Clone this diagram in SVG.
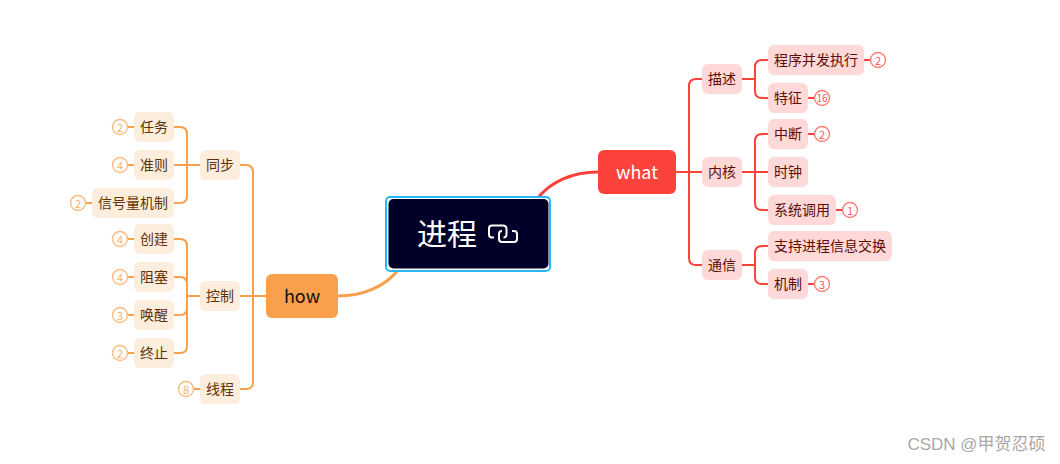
<svg xmlns="http://www.w3.org/2000/svg" width="1060" height="464" viewBox="0 0 1060 464">
<style>
text{font-family:"Noto Sans CJK SC","Noto Sans",sans-serif;text-anchor:middle;dominant-baseline:central}
.l{font-size:14px}
.r rect{fill:#ffd9d7}.r text{fill:#5c0b08}
.o rect{fill:#fdeddd}.o text{fill:#5e3208}
.c{fill:none;stroke-linecap:butt}
.cr{stroke:#fc433b}.co{stroke:#f8a04c}
.bd{fill:#fff;stroke-width:1.4}
.bd.br{stroke:#fc7f79}.bd.bo{stroke:#fbbd82}
.bt{font-size:11px}
.btr{fill:#fc5a52}.bto{fill:#fbb069}
</style>
<rect width="1060" height="464" fill="#fff"/>
<g id="connectors" class="c">
<path class="cr" stroke-width="3" d="M537 199C550 182 572 172 598 172"/>
<path class="co" stroke-width="3" d="M398 270C385 287 362 296 338 296"/>
<g class="cr" stroke-width="2">
<path d="M676 172H702"/>
<path d="M702 79H696Q689 79 689 86V258Q689 265 696 265H702"/>
<path d="M742 79H755M768 60H762Q755 60 755 67V91Q755 98 762 98H768"/>
<path d="M742 172H768M768 134H762Q755 134 755 141V203Q755 210 762 210H768"/>
<path d="M742 265H755M768 246H762Q755 246 755 253V277Q755 284 762 284H768"/>
<path d="M864 60H870M808 98H814M808 134H814M836 210H842M808 284H814"/>
</g>
<g class="co" stroke-width="2">
<path d="M266 296H240"/>
<path d="M240 165H246Q253 165 253 172V382Q253 389 246 389H240"/>
<path d="M200 165H174M174 127H180Q187 127 187 134V196Q187 203 180 203H174"/>
<path d="M200 296H187M174 239H180Q187 239 187 246V346Q187 353 180 353H174"/>
<path d="M174 277H180Q187 277 187 284V308Q187 315 180 315H174"/>
<path d="M134 127H128M134 165H128M92 203H86M134 239H128M134 277H128M134 315H128M134 353H128M200 389H194"/>
</g>
</g>
<g id="root">
<rect x="386" y="197" width="164" height="74" rx="4" fill="#fff" stroke="#2ab7f5" stroke-width="2"/>
<rect x="388.500" y="199" width="160" height="69.500" rx="5" fill="#000028"/>
<text x="447" y="231.500" font-size="30" fill="#fff">进程</text>
<g fill="none" stroke="#fff" stroke-width="2"><path d="M494 237.500H492Q489 237.500 489 234.500V228.500Q489 225.500 492 225.500H503Q506.500 225.500 506.500 229V234.500Q506.500 237.500 503.500 237.500"/><path d="M512 231H514Q517 231 517 234V239Q517 242 514 242H502Q499 242 499 239V234Q499 231 502 231"/></g>
</g>
<g id="what"><rect x="598" y="150" width="78" height="44" rx="6" fill="#fc433b"/><text x="637" y="170.500" font-size="18" fill="#fff">what</text></g>
<g id="how"><rect x="266" y="274" width="72" height="44" rx="6" fill="#f8a04c"/><text x="302" y="294.500" font-size="18" fill="#111">how</text></g>
<g class="r">
<g id="miaoshu"><rect x="702" y="64" width="40" height="30" rx="6"/><text class="l" x="722" y="77.500">描述</text></g>
<g id="chengxu"><rect x="768" y="45" width="96" height="30" rx="6"/><text class="l" x="816" y="58.500">程序并发执行</text></g>
<g id="tezheng"><rect x="768" y="83" width="40" height="30" rx="6"/><text class="l" x="788" y="96.500">特征</text></g>
<g id="zhongduan"><rect x="768" y="119" width="40" height="30" rx="6"/><text class="l" x="788" y="132.500">中断</text></g>
<g id="neihe"><rect x="702" y="157" width="40" height="30" rx="6"/><text class="l" x="722" y="170.500">内核</text></g>
<g id="shizhong"><rect x="768" y="157" width="40" height="30" rx="6"/><text class="l" x="788" y="170.500">时钟</text></g>
<g id="xitong"><rect x="768" y="195" width="68" height="30" rx="6"/><text class="l" x="802" y="208.500">系统调用</text></g>
<g id="tongxin"><rect x="702" y="250" width="40" height="30" rx="6"/><text class="l" x="722" y="263.500">通信</text></g>
<g id="zhichi"><rect x="768" y="231" width="124" height="30" rx="6"/><text class="l" x="830" y="244.500">支持进程信息交换</text></g>
<g id="jizhi"><rect x="768" y="269" width="40" height="30" rx="6"/><text class="l" x="788" y="282.500">机制</text></g>
</g>
<g class="o">
<g id="renwu"><rect x="134" y="112" width="40" height="30" rx="6"/><text class="l" x="154" y="125.500">任务</text></g>
<g id="zhunze"><rect x="134" y="150" width="40" height="30" rx="6"/><text class="l" x="154" y="163.500">准则</text></g>
<g id="xinhao"><rect x="92" y="188" width="82" height="30" rx="6"/><text class="l" x="133" y="201.500">信号量机制</text></g>
<g id="tongbu"><rect x="200" y="150" width="40" height="30" rx="6"/><text class="l" x="220" y="163.500">同步</text></g>
<g id="chuangjian"><rect x="134" y="224" width="40" height="30" rx="6"/><text class="l" x="154" y="237.500">创建</text></g>
<g id="zuse"><rect x="134" y="262" width="40" height="30" rx="6"/><text class="l" x="154" y="275.500">阻塞</text></g>
<g id="huanxing"><rect x="134" y="300" width="40" height="30" rx="6"/><text class="l" x="154" y="313.500">唤醒</text></g>
<g id="zhongzhi"><rect x="134" y="338" width="40" height="30" rx="6"/><text class="l" x="154" y="351.500">终止</text></g>
<g id="kongzhi"><rect x="200" y="281" width="40" height="30" rx="6"/><text class="l" x="220" y="294.500">控制</text></g>
<g id="xiancheng"><rect x="200" y="374" width="40" height="30" rx="6"/><text class="l" x="220" y="387.500">线程</text></g>
</g>
<g id="badges">
<g><circle class="bd br" cx="878" cy="60" r="7.500"/><text class="bt btr" x="878" y="59.500">2</text></g>
<g><circle class="bd br" cx="822" cy="98" r="7.500"/><text class="bt btr" x="822" y="97.500" style="font-size:10px">16</text></g>
<g><circle class="bd br" cx="822" cy="134" r="7.500"/><text class="bt btr" x="822" y="133.500">2</text></g>
<g><circle class="bd br" cx="850" cy="210" r="7.500"/><text class="bt btr" x="850" y="209.500">1</text></g>
<g><circle class="bd br" cx="822" cy="284" r="7.500"/><text class="bt btr" x="822" y="283.500">3</text></g>
<g><circle class="bd bo" cx="120" cy="127" r="7.500"/><text class="bt bto" x="120" y="126.500">2</text></g>
<g><circle class="bd bo" cx="120" cy="165" r="7.500"/><text class="bt bto" x="120" y="164.500">4</text></g>
<g><circle class="bd bo" cx="78" cy="203" r="7.500"/><text class="bt bto" x="78" y="202.500">2</text></g>
<g><circle class="bd bo" cx="120" cy="239" r="7.500"/><text class="bt bto" x="120" y="238.500">4</text></g>
<g><circle class="bd bo" cx="120" cy="277" r="7.500"/><text class="bt bto" x="120" y="276.500">4</text></g>
<g><circle class="bd bo" cx="120" cy="315" r="7.500"/><text class="bt bto" x="120" y="314.500">3</text></g>
<g><circle class="bd bo" cx="120" cy="353" r="7.500"/><text class="bt bto" x="120" y="352.500">2</text></g>
<g><circle class="bd bo" cx="186" cy="389" r="7.500"/><text class="bt bto" x="186" y="388.500">8</text></g>
</g>
<text x="976.500" y="444" font-size="17" fill="#a8a8a8" style="font-family:'Liberation Sans','Noto Sans CJK SC',sans-serif">CSDN @甲贺忍硕</text>
</svg>
